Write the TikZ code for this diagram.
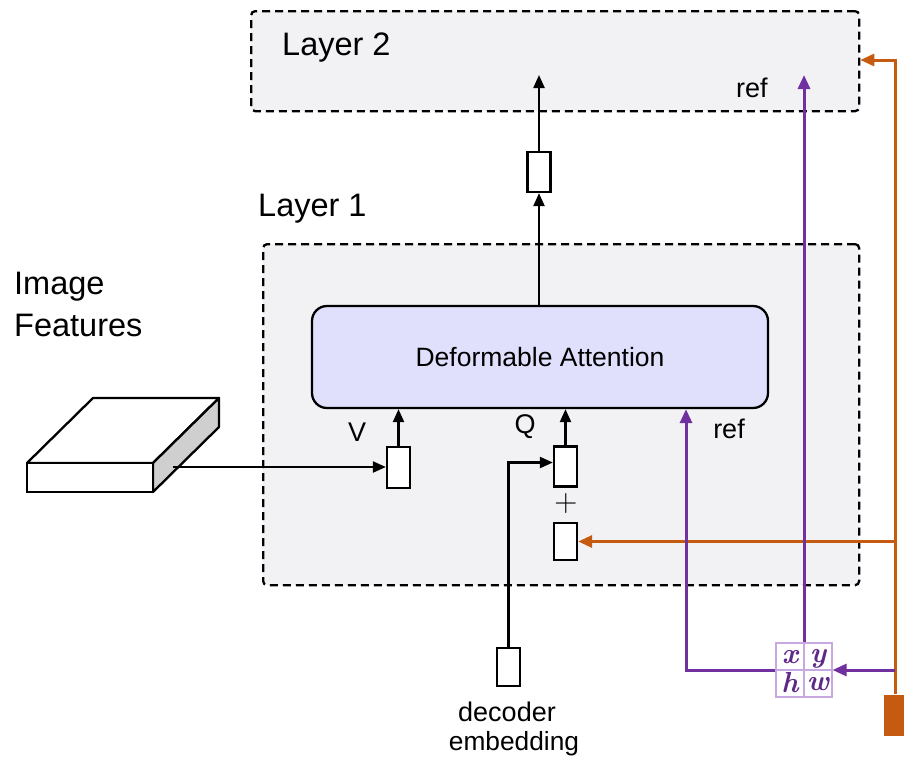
\documentclass[tikz,border=0pt]{standalone}
\usepackage{fontspec}
\newfontfamily\arial{Liberation Sans}
\usetikzlibrary{arrows.meta}
\definecolor{bgray}{HTML}{F2F2F4}
\definecolor{lav}{HTML}{E0E0FC}
\definecolor{ora}{HTML}{C55A11}
\definecolor{pur}{HTML}{7030A0}
\definecolor{lpur}{HTML}{C8A8E0}
\definecolor{sidegray}{HTML}{CFCFCF}
\begin{document}
\begin{tikzpicture}[x=1pt,y=-1pt,
 layer/.style={draw, dash pattern=on 8pt off 5pt, line width=2.3pt, fill=bgray, rounded corners=4pt, inner sep=0},
 vec/.style={draw, fill=white, line width=2.3pt, minimum width=23pt, minimum height=40pt, inner sep=0},
 att/.style={draw, fill=lav, line width=2.3pt, rounded corners=15pt, minimum width=456pt, minimum height=102pt, inner sep=0},
 big/.style={font=\arial\fontsize{32.5}{36}\selectfont, inner sep=0},
 small/.style={font=\arial\fontsize{27}{31}\selectfont, inner sep=0},
 letter/.style={font=\fontsize{29}{30}\selectfont\bfseries\itshape, text=pur!85!black, inner sep=0},
 blk/.style={line width=2.3pt, -{Triangle[length=13pt,width=11pt]}},
 parr/.style={pur, line width=3pt, -{Triangle[length=14pt,width=12pt]}},
 oarr/.style={ora, line width=3pt, -{Triangle[length=14pt,width=12pt]}},
]
\useasboundingbox (0,0) rectangle (904,763);
% layers
\node[layer, anchor=north west, minimum width=608pt, minimum height=100pt] (L2) at (250,10) {};
\node[layer, anchor=north west, minimum width=596pt, minimum height=341pt] (L1) at (262,243) {};
\node[big, anchor=west] (l2t) at (282,48) {Layer 2};
\node[small, anchor=west] (ref2) at (736,88) {ref};
\node[big, anchor=west] (l1t) at (258,209) {Layer 1};
% attention
\node[att] (att) at (540,357) {\arial\fontsize{26.5}{30}\selectfont Deformable Attention};
% vectors
\node[vec] (o1) at (539,172) {};
\node[vec, minimum height=41pt] (V) at (398.5,467.5) {};
\node[vec, minimum height=40pt] (Q) at (565.5,466.5) {};
\node[vec, minimum height=37pt] (add) at (565.5,541.5) {};
\node[vec, minimum height=38pt] (dec) at (508.5,667) {};
\coordinate (t2) at (539,75);
\draw[blk] (att.north -| o1) -- (o1.south);
\draw[blk] (o1.north) -- (t2);
\draw[blk] (V.north) -- (V.north |- att.south);
\draw[blk] (Q.north) -- (Q.north |- att.south);
\draw[blk] (dec.north) |- ([yshift=4pt]Q.west);
% labels
\node[small] (vl) at (357,432) {V};
\node[small] (ql) at (525,427) {Q};
\node[small] (ref1) at (729,429) {ref};
\node[font=\fontsize{32}{32}\selectfont, inner sep=0] (plus) at (566,504) {+};
\node[big, anchor=west] (img1) at (14,287) {Image};
\node[big, anchor=west] (img2) at (14,325) {Features};
\node[small] (d1) at (507,712) {decoder};
\node[font=\arial\fontsize{26.3}{30}\selectfont, inner sep=0] (d2) at (514,744) {embedding};
% slab
\draw[line width=2.3pt, fill=white, line join=round] (27,463) -- (93,398) -- (219,398) -- (153,463) -- cycle;
\draw[line width=2.3pt, fill=sidegray, line join=round] (153,463) -- (219,398) -- (219,427) -- (153,492) -- cycle;
\draw[line width=2.3pt, fill=white] (27,463) rectangle (153,492);
\coordinate (slab) at (173,467);
\draw[blk] (slab) -- (slab -| V.west);
% grid
\node[draw=lpur, line width=1.2pt, fill=white, minimum width=56pt, minimum height=54pt, inner sep=0] (grid) at (804,670) {};
\draw[lpur, line width=1.2pt] (grid.north) -- (grid.south) (grid.west) -- (grid.east);
\node[letter] (gx) at (790,657) {x};
\node[letter] (gy) at (818,659) {y};
\node[letter] (gh) at (790,683) {h};
\node[letter] (gw) at (818,684) {w};
% orange block
\node[fill=ora, minimum width=22pt, minimum height=41pt, inner sep=0] (blk) at (895,715) {};
\draw[oarr] (blk.north) |- ([yshift=-50pt]L2.north east);
\draw[oarr] (blk.north |- add.east) -- (add.east);
\draw[parr] (blk.north |- grid.east) -- (grid.east);
\draw[parr] (grid.west) -| ([xshift=146pt]att.south);
\draw[parr] (grid.north) -- (grid.north |- t2);
\end{tikzpicture}
\end{document}
